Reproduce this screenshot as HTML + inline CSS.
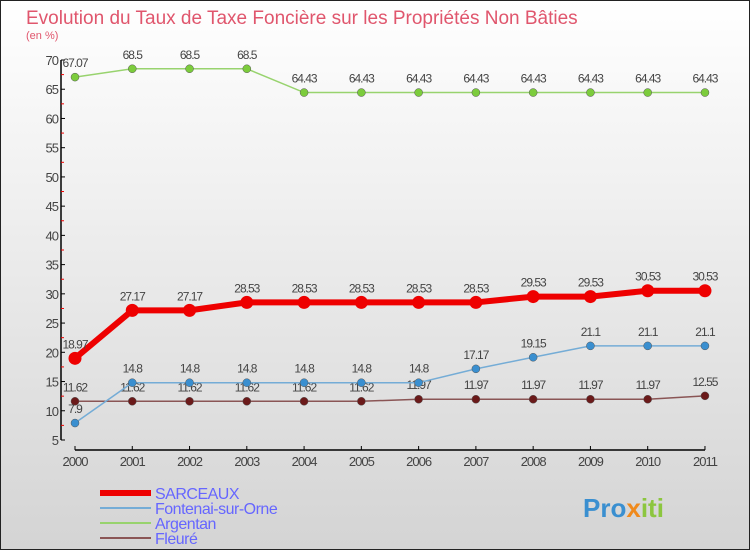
<!DOCTYPE html>
<html><head><meta charset="utf-8"><style>
body{margin:0}
svg{display:block;font-family:"Liberation Sans",sans-serif}
</style></head><body>
<svg id="c" width="750" height="550">
<defs><linearGradient id="bg" x1="0" y1="0" x2="0" y2="1"><stop offset="0" stop-color="#ffffff"/><stop offset="1" stop-color="#d4d4d4"/></linearGradient></defs>
<rect x="0.5" y="0.5" width="749" height="549" fill="url(#bg)" stroke="#222"/>
<text x="26" y="24" font-size="19" fill="#e0566d">Evolution du Taux de Taxe Foncière sur les Propriétés Non Bâties</text>
<text x="26" y="39" font-size="11" fill="#e0566d">(en %)</text>
<g id="axes"></g><g id="series"></g><g id="legend"></g>
<text x="583" y="517" font-size="26" font-weight="bold" fill="#3a8fd0">Pro<tspan fill="#f08a1c">x</tspan><tspan fill="#8cc63f">iti</tspan></text>
</svg>
<script>
const years=["2000","2001","2002","2003","2004","2005","2006","2007","2008","2009","2010","2011"];
const sarceaux=[18.97,27.17,27.17,28.53,28.53,28.53,28.53,28.53,29.53,29.53,30.53,30.53];
const fontenai=[7.9,14.8,14.8,14.8,14.8,14.8,14.8,17.17,19.15,21.1,21.1,21.1];
const argentan=[67.07,68.5,68.5,68.5,64.43,64.43,64.43,64.43,64.43,64.43,64.43,64.43];
const fleure=[11.62,11.62,11.62,11.62,11.62,11.62,11.97,11.97,11.97,11.97,11.97,12.55];
const yTicks=[5,10,15,20,25,30,35,40,45,50,55,60,65,70];
const NS="http://www.w3.org/2000/svg";
const X=i=>75+i*57.27, Y=v=>60+(70-v)*5.846;
function mk(t,a,p){const e=document.createElementNS(NS,t);for(const k in a)e.setAttribute(k,a[k]);p.appendChild(e);return e;}
const ax=document.getElementById('axes');
let e=mk('line',{x1:61,y1:60,x2:61,y2:440,stroke:'#000','stroke-width':1.5},ax);


e=mk('line',{x1:75,y1:450,x2:705,y2:450,stroke:'#000','stroke-width':1.5},ax);


yTicks.forEach(v=>{
 mk('line',{x1:61,y1:Y(v),x2:65,y2:Y(v),stroke:'#000'},ax);
 if(v<70) mk('line',{x1:61,y1:Y(v+2.5),x2:64,y2:Y(v+2.5),stroke:'#e00'},ax);
 const t=mk('text',{x:58,y:Y(v)+5,'font-size':13,fill:'#444','text-anchor':'end','letter-spacing':'-1'},ax);t.textContent=v;
 
 
});
years.forEach((y,i)=>{
 mk('line',{x1:X(i),y1:446,x2:X(i),y2:450,stroke:'#000'},ax);
 const t=mk('text',{x:X(i),y:466,'font-size':13,fill:'#444','text-anchor':'middle','letter-spacing':'-1'},ax);t.textContent=y;
 
 
});
const sg=document.getElementById('series');
const defs=[[argentan,'#98d36e','#7ccc3c',1.5,4,'argentan'],[fleure,'#8a5555','#6b1a1a',1.5,4,'fleure'],[fontenai,'#74acd6','#3a8fd0',1.5,4,'fontenai-sur-orne'],[sarceaux,'#ee0000','#ee0000',6,6.5,'sarceaux']];
defs.forEach(([d,lc,pc,w,r,n])=>{
 const g=mk('g',{},sg);
 
 
 const p=mk('polyline',{points:d.map((v,i)=>X(i)+','+Y(v)).join(' '),fill:'none',stroke:lc,'stroke-width':w},g);
 d.forEach((v,i)=>{
  const c=mk('circle',{cx:X(i),cy:Y(v),r:r,fill:pc,stroke:n==='sarceaux'?'none':'#555','stroke-width':0.5},g);
  
  
  const t=mk('text',{x:X(i),y:Y(v)-10,'font-size':12,fill:'#444','text-anchor':'middle','letter-spacing':'-1'},g);t.textContent=v;
  
  
 });
});
const lg=document.getElementById('legend');
[['SARCEAUX','#ee0000',6],['Fontenai-sur-Orne','#74acd6',2],['Argentan','#98d36e',2],['Fleuré','#8a5555',2]].forEach(([n,c,w],i)=>{
 const y=493+i*15;
 const g=mk('g',{},lg);
 
 
 mk('line',{x1:100,y1:y,x2:151,y2:y,stroke:c,'stroke-width':w},g);
 const t=mk('text',{x:155,y:y+6,'font-size':16,fill:'#6666ff','letter-spacing':'-0.5'},g);t.textContent=n;
});
</script>
</body></html>
